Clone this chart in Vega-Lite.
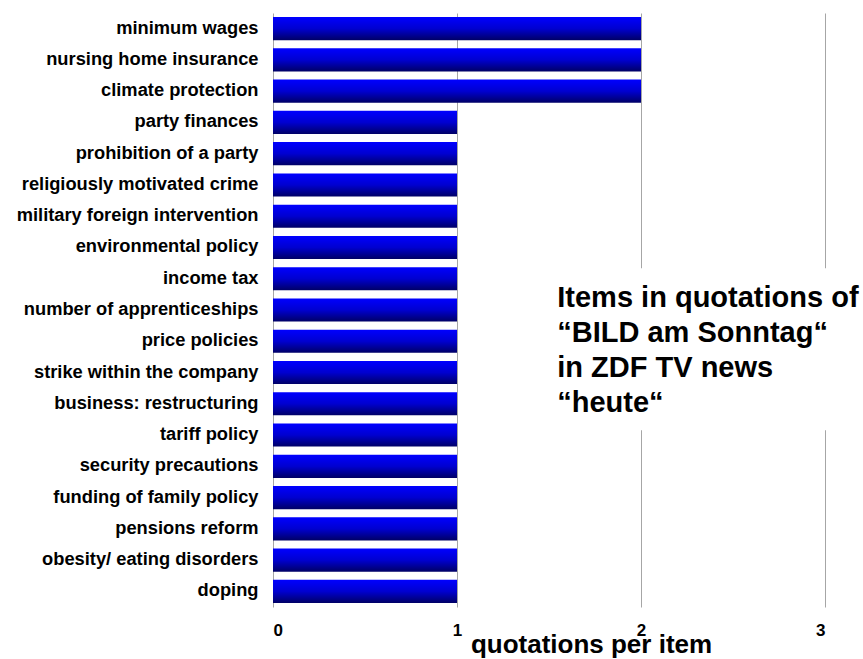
{
  "$schema": "https://vega.github.io/schema/vega-lite/v6.json",
  "autosize": "none",
  "width": 552,
  "height": 594,
  "padding": {"left": 273, "top": 13, "right": 38, "bottom": 52},
  "background": "white",
  "config": {"view": {"stroke": null}, "font": "Liberation Sans"},
  "data": {"values": [
    {"item": "minimum wages", "quotations": 2},
    {"item": "nursing home insurance", "quotations": 2},
    {"item": "climate protection", "quotations": 2},
    {"item": "party finances", "quotations": 1},
    {"item": "prohibition of a party", "quotations": 1},
    {"item": "religiously motivated crime", "quotations": 1},
    {"item": "military foreign intervention", "quotations": 1},
    {"item": "environmental policy", "quotations": 1},
    {"item": "income tax", "quotations": 1},
    {"item": "number of apprenticeships", "quotations": 1},
    {"item": "price policies", "quotations": 1},
    {"item": "strike within the company", "quotations": 1},
    {"item": "business: restructuring", "quotations": 1},
    {"item": "tariff policy", "quotations": 1},
    {"item": "security precautions", "quotations": 1},
    {"item": "funding of family policy", "quotations": 1},
    {"item": "pensions reform", "quotations": 1},
    {"item": "obesity/ eating disorders", "quotations": 1},
    {"item": "doping", "quotations": 1}
  ]},
  "layer": [
    {
      "mark": {"type": "bar", "color": {"gradient": "linear", "x1": 0, "y1": 0, "x2": 0, "y2": 1, "stops": [{"offset": 0, "color": "#0000ff"}, {"offset": 0.5, "color": "#0000d0"}, {"offset": 1, "color": "#000066"}]}},
      "encoding": {
        "y": {"field": "item", "type": "nominal", "sort": null,
          "scale": {"paddingInner": 0.26, "paddingOuter": 0.13},
          "axis": {"title": null, "domain": false, "ticks": false, "labelPadding": 15, "labelFontSize": 18.3, "labelFontWeight": "bold", "labelColor": "black", "labelLimit": 400}},
        "x": {"field": "quotations", "type": "quantitative",
          "scale": {"domain": [0, 3], "nice": false},
          "axis": {"values": [0, 1, 2, 3], "format": "d", "title": "quotations per item", "grid": true, "gridColor": "#a6a6a6", "domain": false, "ticks": false, "labelPadding": 15, "labelFontSize": 17, "labelFontWeight": "bold", "labelColor": "black", "titleFontSize": 26, "titleFontWeight": "bold", "titleColor": "black", "titleX": 318, "titleY": 45, "titleBaseline": "alphabetic", "titleAlign": "center", "titleAnchor": null}}
      }
    },
    {
      "data": {"values": [{"item": "price policies"}]},
      "mark": {"type": "bar", "color": "white", "height": 162, "yOffset": 8, "clip": false},
      "encoding": {
        "y": {"field": "item", "type": "nominal", "sort": null},
        "x": {"datum": 1.49},
        "x2": {"datum": 3.25}
      }
    },
    {
      "data": {"values": [{"item": "number of apprenticeships", "label": "Items in quotations of\n“BILD am Sonntag“\nin ZDF TV news\n“heute“"}]},
      "mark": {"type": "text", "align": "left", "baseline": "alphabetic", "fontSize": 29, "fontWeight": "bold", "color": "black", "lineBreak": "\n", "lineHeight": 35, "dy": -3},
      "encoding": {
        "y": {"field": "item", "type": "nominal", "sort": null},
        "x": {"datum": 1.545},
        "text": {"field": "label"}
      }
    }
  ]
}
